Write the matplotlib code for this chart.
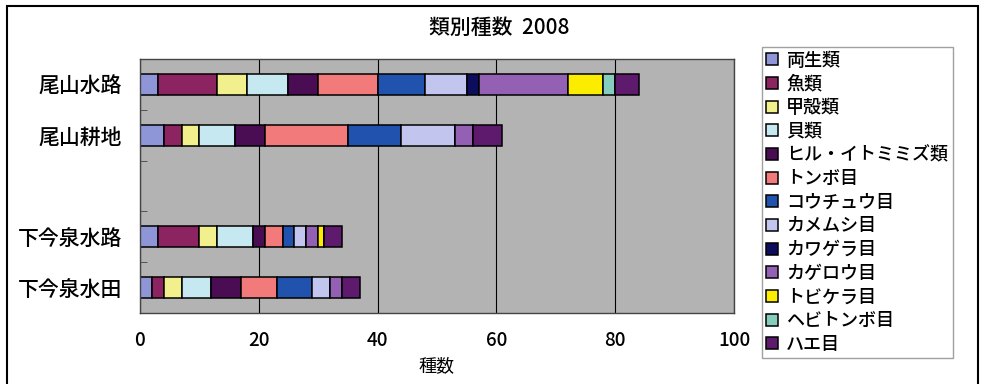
import numpy as np
import matplotlib.pyplot as plt
from matplotlib.patches import Rectangle

plt.rcParams['font.family'] = ['Noto Sans CJK JP', 'DejaVu Sans']
plt.rcParams['font.weight'] = 'medium'

# categories top to bottom (the empty one is a blank slot in the original)
sites = ['尾山水路', '尾山耕地', '', '下今泉水路', '下今泉水田']

groups = ['両生類', '魚類', '甲殻類', '貝類', 'ヒル・イトミミズ類', 'トンボ目',
          'コウチュウ目', 'カメムシ目', 'カワゲラ目', 'カゲロウ目', 'トビケラ目',
          'ヘビトンボ目', 'ハエ目']

# species counts per group, one list per site (same order as sites)
oyama_suiro = [3, 10, 5, 7, 5, 10, 8, 7, 2, 15, 6, 2, 4]
oyama_kouchi = [4, 3, 3, 6, 5, 14, 9, 9, 0, 3, 0, 0, 5]
blank = [0] * 13
shimo_suiro = [3, 7, 3, 6, 2, 3, 2, 2, 0, 2, 1, 0, 3]
shimo_suiden = [2, 2, 3, 5, 5, 6, 6, 3, 0, 2, 0, 0, 3]

colors = ['#8f96d8', '#8c2462', '#f2f08c', '#c6e8f0', '#4a0c52', '#f27a7a',
          '#2152ae', '#c2c6ee', '#0d0d5e', '#9460b4', '#fcec00', '#86cdbd',
          '#5e1a6c']

counts = np.array([oyama_suiro, oyama_kouchi, blank, shimo_suiro, shimo_suiden])

fig = plt.figure(figsize=(9.83, 3.84), dpi=100)
ax = fig.add_axes([0.1424, 0.1849, 0.6043, 0.6615])
ax.set_facecolor('#b3b3b3')

y = np.arange(len(sites))
left = np.zeros(len(sites))
for i, g in enumerate(groups):
    vals = counts[:, i]
    ax.barh(y, vals, left=left, height=0.42, color=colors[i],
            edgecolor='black', linewidth=1.1, label=g)
    left += vals

ax.set_xlim(0, 100)
ax.set_ylim(len(sites) - 0.5, -0.5)
ax.set_xticks(range(0, 101, 20))
ax.set_yticks(y)
ax.set_yticklabels(sites, fontsize=15)
ax.set_yticks(np.arange(0.5, len(sites) - 0.5, 1), minor=True)
ax.tick_params(axis='y', which='major', length=0, pad=13)
ax.tick_params(axis='y', which='minor', length=5, direction='in', color='#444444')
ax.tick_params(axis='x', length=0, labelsize=13.5, pad=13)
ax.grid(axis='x', color='black', linewidth=0.8)
ax.set_axisbelow(True)
for s in ax.spines.values():
    s.set_color('#444444')
    s.set_linewidth(1.0)

ax.set_xlabel('種数', fontsize=13, labelpad=5)
fig.text(0.508, 0.928, '類別種数  2008', ha='center', va='center', fontsize=15)

leg = ax.legend(loc='upper left', bbox_to_anchor=(1.047, 1.047), borderaxespad=0,
                fontsize=13, frameon=True, fancybox=False, edgecolor='#888888',
                handlelength=0.65, handleheight=0.65, handletextpad=0.45,
                labelspacing=0.315, borderpad=0.25)
leg.get_frame().set_linewidth(1.0)

# outer chart border
fig.patches.append(Rectangle((7 / 983, -0.05), 971 / 983, 1 - 6 / 384 + 0.05,
                             transform=fig.transFigure, fill=False,
                             edgecolor='black', linewidth=1.5))

fig.savefig('out.png', dpi=100)
